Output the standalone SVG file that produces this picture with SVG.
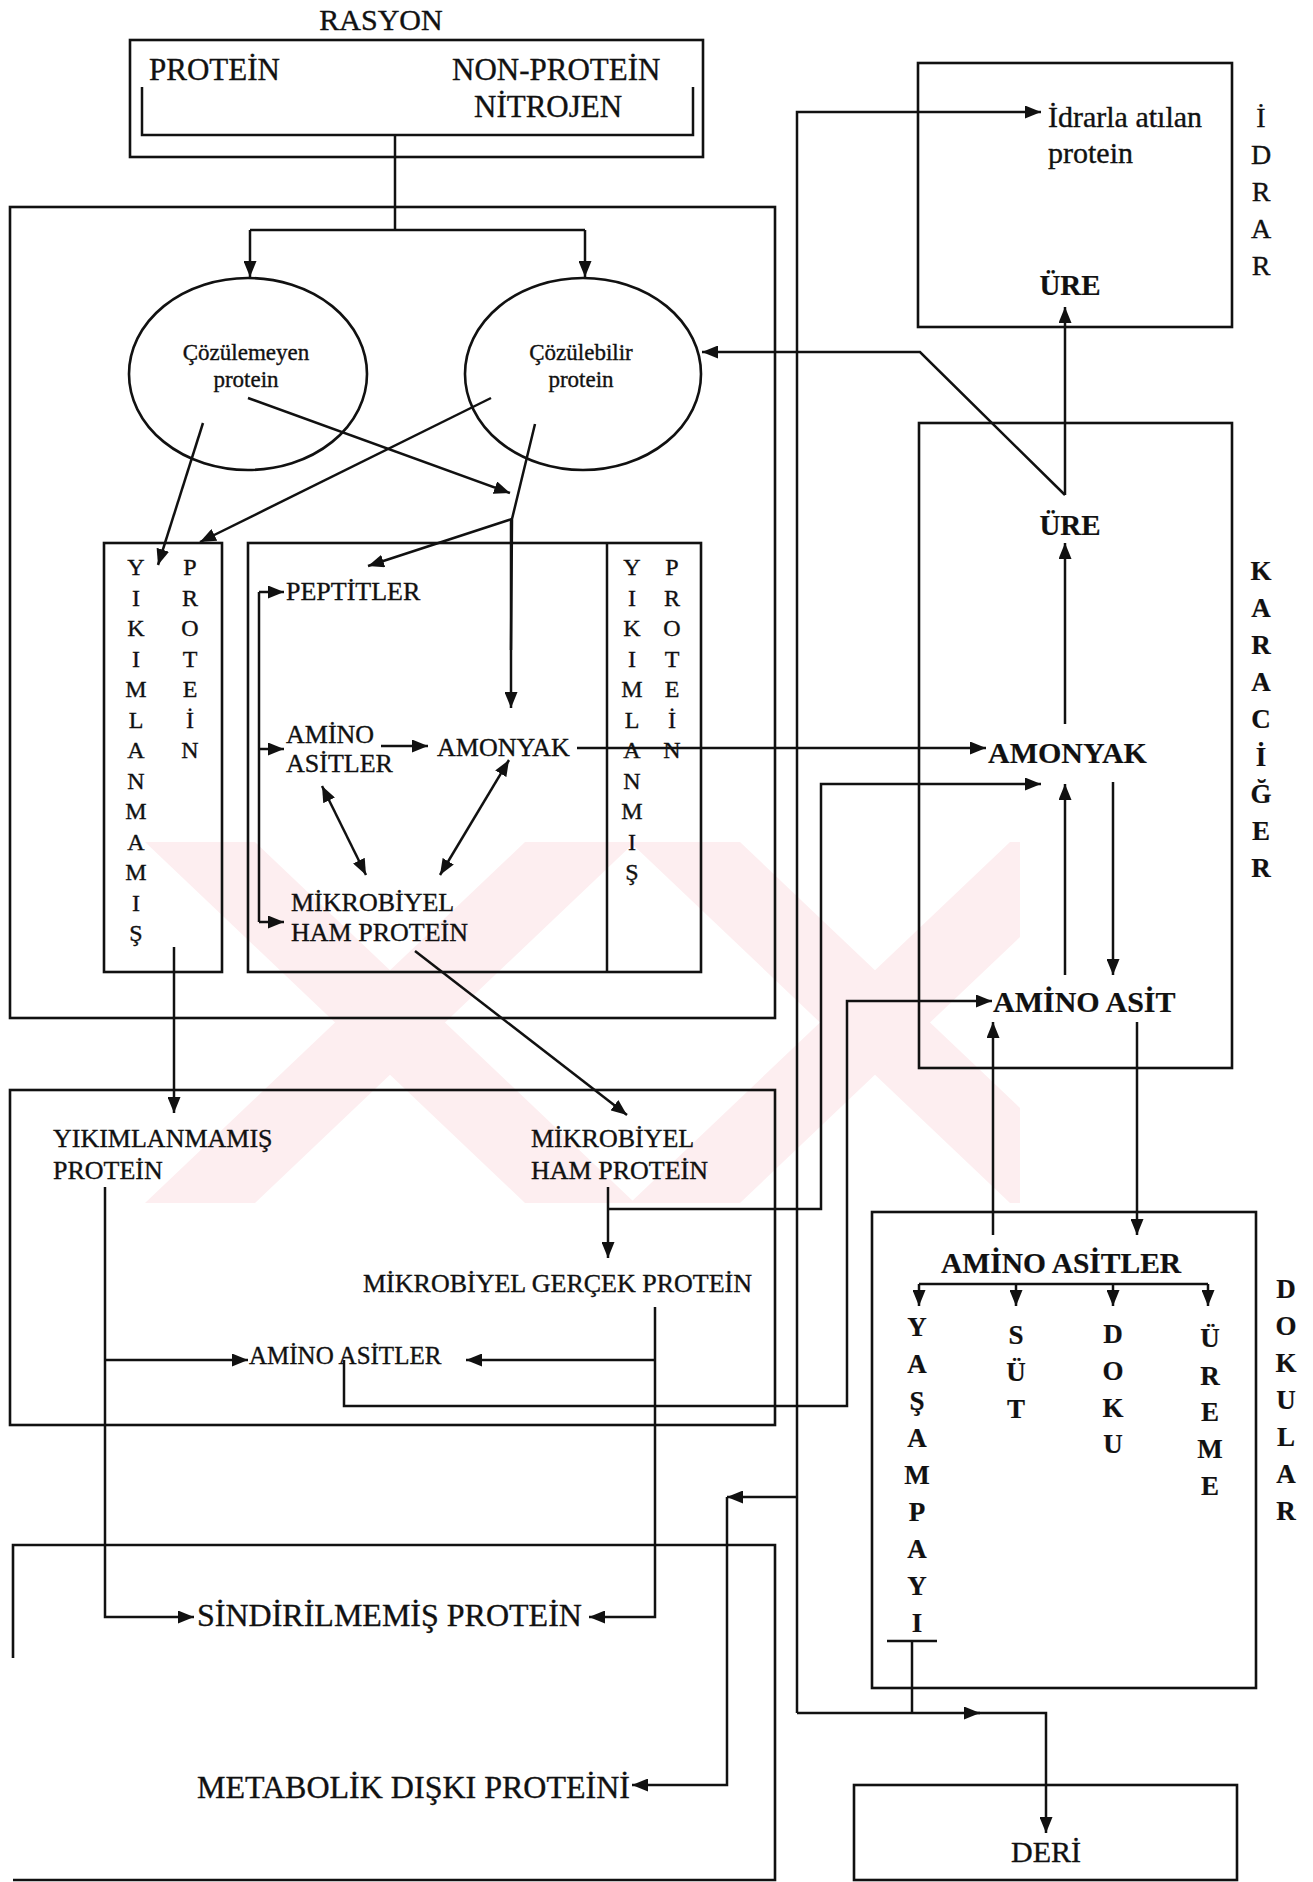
<svg xmlns="http://www.w3.org/2000/svg" width="1313" height="1882" viewBox="0 0 1313 1882">
<defs>
<marker id="ah" viewBox="0 0 16 13" refX="16" refY="6.5" markerWidth="16" markerHeight="13" markerUnits="userSpaceOnUse" orient="auto-start-reverse"><path d="M0,0 L16,6.5 L0,13 z" fill="#111"/></marker>
<clipPath id="wmclip"><rect x="140" y="842" width="880" height="361"/></clipPath>
<style>
.t{font-family:"Liberation Serif","Times New Roman",serif;fill:#111;stroke:#111;stroke-width:0.35}
.b{font-weight:bold;stroke-width:0.2}
.box{fill:none;stroke:#111;stroke-width:2.6}
.ln{fill:none;stroke:#111;stroke-width:2.5}
.ar{fill:none;stroke:#111;stroke-width:2.5;marker-end:url(#ah)}
.da{fill:none;stroke:#111;stroke-width:2.5;marker-end:url(#ah);marker-start:url(#ah)}
.c{text-anchor:middle}
.wm{fill:#fdeef0;stroke:none}
</style>
</defs>
<rect width="1313" height="1882" fill="#fff"/>

<g clip-path="url(#wmclip)">
<polygon class="wm" points="145,842 255,842 635,1203 525,1203"/>
<polygon class="wm" points="525,842 635,842 255,1203 145,1203"/>
<polygon class="wm" points="630,842 740,842 1120,1203 1010,1203"/>
<polygon class="wm" points="1010,842 1120,842 740,1203 630,1203"/>
</g>

<g id="rasyon">
<text class="t c" x="381" y="30" font-size="30">RASYON</text>
<rect class="box" x="130" y="40" width="573" height="117"/>
<text class="t" x="149" y="80" font-size="31">PROTEİN</text>
<text class="t" x="452" y="80" font-size="31">NON-PROTEİN</text>
<text class="t" x="474" y="117" font-size="31">NİTROJEN</text>
<polyline class="ln" points="142,87 142,135 693,135 693,87"/>
</g>

<g id="rumen">
<rect class="box" x="10" y="207" width="765" height="811"/>
</g>

<g id="cozulemeyen">
<ellipse class="box" cx="248" cy="374" rx="119" ry="96"/>
<text class="t c" x="246" y="360" font-size="23">Çözülemeyen</text>
<text class="t c" x="246" y="387" font-size="23">protein</text>
</g>

<g id="cozulebilir">
<ellipse class="box" cx="583" cy="374" rx="118" ry="96"/>
<text class="t c" x="581" y="360" font-size="23">Çözülebilir</text>
<text class="t c" x="581" y="387" font-size="23">protein</text>
</g>

<g id="yikimlanmamis-rumen">
<rect class="box" x="104" y="543" width="118" height="429"/>
<text class="t c" font-size="24"><tspan x="136" y="575">Y</tspan><tspan x="136" y="605.5">I</tspan><tspan x="136" y="636">K</tspan><tspan x="136" y="666.5">I</tspan><tspan x="136" y="697">M</tspan><tspan x="136" y="727.5">L</tspan><tspan x="136" y="758">A</tspan><tspan x="136" y="788.5">N</tspan><tspan x="136" y="819">M</tspan><tspan x="136" y="849.5">A</tspan><tspan x="136" y="880">M</tspan><tspan x="136" y="910.5">I</tspan><tspan x="136" y="941">Ş</tspan></text>
<text class="t c" font-size="24"><tspan x="190" y="575">P</tspan><tspan x="190" y="605.5">R</tspan><tspan x="190" y="636">O</tspan><tspan x="190" y="666.5">T</tspan><tspan x="190" y="697">E</tspan><tspan x="190" y="727.5">İ</tspan><tspan x="190" y="758">N</tspan></text>
</g>

<g id="mikrobiyel-rumen">
<rect class="box" x="248" y="543" width="453" height="429"/>
<line class="ln" x1="607" y1="543" x2="607" y2="972"/>
<text class="t" x="286" y="600" font-size="26">PEPTİTLER</text>
<text class="t" x="286" y="743" font-size="26">AMİNO</text>
<text class="t" x="286" y="772" font-size="26">ASİTLER</text>
<text class="t" x="437" y="756" font-size="26">AMONYAK</text>
<text class="t" x="291" y="911" font-size="26">MİKROBİYEL</text>
<text class="t" x="291" y="941" font-size="26">HAM PROTEİN</text>
<text class="t c" font-size="24"><tspan x="632" y="575">Y</tspan><tspan x="632" y="605.5">I</tspan><tspan x="632" y="636">K</tspan><tspan x="632" y="666.5">I</tspan><tspan x="632" y="697">M</tspan><tspan x="632" y="727.5">L</tspan><tspan x="632" y="758">A</tspan><tspan x="632" y="788.5">N</tspan><tspan x="632" y="819">M</tspan><tspan x="632" y="849.5">I</tspan><tspan x="632" y="880">Ş</tspan></text>
<text class="t c" font-size="24"><tspan x="672" y="575">P</tspan><tspan x="672" y="605.5">R</tspan><tspan x="672" y="636">O</tspan><tspan x="672" y="666.5">T</tspan><tspan x="672" y="697">E</tspan><tspan x="672" y="727.5">İ</tspan><tspan x="672" y="758">N</tspan></text>
</g>

<g id="bagirsak">
<rect class="box" x="10" y="1090" width="765" height="335"/>
<text class="t" x="53" y="1147" font-size="26">YIKIMLANMAMIŞ</text>
<text class="t" x="53" y="1179" font-size="26">PROTEİN</text>
<text class="t" x="531" y="1147" font-size="26">MİKROBİYEL</text>
<text class="t" x="531" y="1179" font-size="26">HAM PROTEİN</text>
<text class="t" x="363" y="1292" font-size="26">MİKROBİYEL GERÇEK PROTEİN</text>
<text class="t" x="249" y="1364" font-size="25">AMİNO ASİTLER</text>
</g>

<g id="diski">
<polyline class="box" points="13,1658 13,1545 775,1545 775,1880 13,1880"/>
<text class="t" x="197" y="1626" font-size="32">SİNDİRİLMEMİŞ PROTEİN</text>
<text class="t" x="197" y="1798" font-size="32">METABOLİK DIŞKI PROTEİNİ</text>
</g>

<g id="idrar">
<rect class="box" x="918" y="63" width="314" height="264"/>
<text class="t" x="1048" y="127" font-size="30">İdrarla atılan</text>
<text class="t" x="1048" y="163" font-size="30">protein</text>
<text class="t b c" x="1070" y="295" font-size="29">ÜRE</text>
<text class="t c" font-size="28"><tspan x="1261" y="127">İ</tspan><tspan x="1261" y="164">D</tspan><tspan x="1261" y="201">R</tspan><tspan x="1261" y="238">A</tspan><tspan x="1261" y="275">R</tspan></text>
</g>

<g id="karaciger">
<rect class="box" x="919" y="423" width="313" height="645"/>
<text class="t b c" x="1070" y="535" font-size="29">ÜRE</text>
<text class="t b" x="988" y="763" font-size="30">AMONYAK</text>
<text class="t b" x="993" y="1012" font-size="30">AMİNO ASİT</text>
<text class="t b c" font-size="27"><tspan x="1261" y="580">K</tspan><tspan x="1261" y="617">A</tspan><tspan x="1261" y="654">R</tspan><tspan x="1261" y="691">A</tspan><tspan x="1261" y="728">C</tspan><tspan x="1261" y="766">İ</tspan><tspan x="1261" y="803">Ğ</tspan><tspan x="1261" y="840">E</tspan><tspan x="1261" y="877">R</tspan></text>
</g>

<g id="dokular">
<rect class="box" x="872" y="1212" width="384" height="476"/>
<text class="t b" x="941" y="1273" font-size="29.5">AMİNO ASİTLER</text>
<text class="t b c" font-size="27"><tspan x="917" y="1336">Y</tspan><tspan x="917" y="1373">A</tspan><tspan x="917" y="1410">Ş</tspan><tspan x="917" y="1447">A</tspan><tspan x="917" y="1484">M</tspan><tspan x="917" y="1521">P</tspan><tspan x="917" y="1558">A</tspan><tspan x="917" y="1595">Y</tspan><tspan x="917" y="1632">I</tspan></text>
<text class="t b c" font-size="27"><tspan x="1016" y="1344">S</tspan><tspan x="1016" y="1381">Ü</tspan><tspan x="1016" y="1418">T</tspan></text>
<text class="t b c" font-size="27"><tspan x="1113" y="1343">D</tspan><tspan x="1113" y="1380">O</tspan><tspan x="1113" y="1417">K</tspan><tspan x="1113" y="1453">U</tspan></text>
<text class="t b c" font-size="27"><tspan x="1210" y="1347">Ü</tspan><tspan x="1210" y="1385">R</tspan><tspan x="1210" y="1421">E</tspan><tspan x="1210" y="1458">M</tspan><tspan x="1210" y="1495">E</tspan></text>
<text class="t b c" font-size="27"><tspan x="1286" y="1298">D</tspan><tspan x="1286" y="1335">O</tspan><tspan x="1286" y="1372">K</tspan><tspan x="1286" y="1409">U</tspan><tspan x="1286" y="1446">L</tspan><tspan x="1286" y="1483">A</tspan><tspan x="1286" y="1520">R</tspan></text>
</g>

<g id="deri">
<rect class="box" x="854" y="1785" width="383" height="95"/>
<text class="t c" x="1046" y="1862" font-size="30">DERİ</text>
</g>

<g id="connectors">
<line class="ln" x1="395" y1="135" x2="395" y2="230"/>
<line class="ln" x1="250" y1="230" x2="585" y2="230"/>
<line class="ar" x1="250" y1="230" x2="250" y2="277"/>
<line class="ar" x1="585" y1="230" x2="585" y2="277"/>
<line class="ar" x1="248" y1="398" x2="510" y2="493"/>
<line class="ar" x1="491" y1="398" x2="200" y2="542"/>
<line class="ar" x1="203" y1="423" x2="158" y2="565"/>
<polyline class="ln" points="535,424 512,519 511,650"/>
<line class="ar" x1="511" y1="519" x2="511" y2="708"/>
<line class="ar" x1="512" y1="519" x2="368" y2="566"/>
<line class="ln" x1="259" y1="592" x2="259" y2="922"/>
<line class="ar" x1="259" y1="592" x2="284" y2="592"/>
<line class="ar" x1="259" y1="749" x2="284" y2="749"/>
<line class="ar" x1="259" y1="922" x2="284" y2="922"/>
<line class="ar" x1="381" y1="746" x2="428" y2="746"/>
<line class="ar" x1="577" y1="748" x2="986" y2="748"/>
<line class="da" x1="322" y1="786" x2="366" y2="875"/>
<line class="da" x1="509" y1="760" x2="440" y2="875"/>
<line class="ar" x1="415" y1="951" x2="627" y2="1115"/>
<line class="ar" x1="174" y1="947" x2="174" y2="1113"/>
<line class="ar" x1="608" y1="1187" x2="608" y2="1258"/>
<polyline class="ar" points="608,1209 821,1209 821,784 1041,784"/>
<polyline class="ar" points="655,1307 655,1617 589,1617"/>
<line class="ar" x1="655" y1="1360" x2="466" y2="1360"/>
<polyline class="ar" points="105,1187 105,1617 194,1617"/>
<line class="ar" x1="105" y1="1360" x2="248" y2="1360"/>
<polyline class="ar" points="344,1360 344,1406 847,1406 847,1001 992,1001"/>
<line class="ar" x1="1065" y1="724" x2="1065" y2="543"/>
<line class="ar" x1="1065" y1="975" x2="1065" y2="784"/>
<line class="ar" x1="1113" y1="782" x2="1113" y2="975"/>
<line class="ar" x1="1065" y1="495" x2="1065" y2="307"/>
<polyline class="ar" points="1065,495 920,352 702,352"/>
<polyline class="ar" points="797,1713 797,112 1041,112"/>
<line class="ar" x1="797" y1="1713" x2="980" y2="1713"/>
<polyline class="ar" points="975,1713 1046,1713 1046,1833"/>
<line class="ar" x1="797" y1="1497" x2="727" y2="1497"/>
<polyline class="ar" points="727,1497 727,1785 632,1785"/>
<line class="ln" x1="887" y1="1641" x2="937" y2="1641"/>
<line class="ln" x1="912" y1="1641" x2="912" y2="1713"/>
<line class="ar" x1="1137" y1="1022" x2="1137" y2="1235"/>
<line class="ar" x1="993" y1="1235" x2="993" y2="1022"/>
<line class="ln" x1="919" y1="1284" x2="1208" y2="1284"/>
<line class="ar" x1="919" y1="1284" x2="919" y2="1306"/>
<line class="ar" x1="1016" y1="1284" x2="1016" y2="1306"/>
<line class="ar" x1="1113" y1="1284" x2="1113" y2="1306"/>
<line class="ar" x1="1208" y1="1284" x2="1208" y2="1306"/>
</g>
</svg>
